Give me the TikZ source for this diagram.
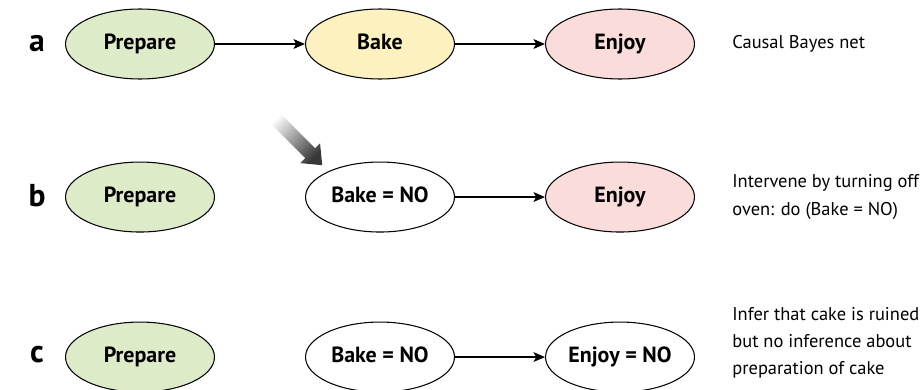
\documentclass[tikz,border=0pt]{standalone}
\usepackage{fontspec}
\setsansfont{PT Sans}
\usetikzlibrary{shapes.geometric,arrows.meta,positioning}

\definecolor{prepgreen}{RGB}{221,235,201}
\definecolor{bakeyellow}{RGB}{253,241,191}
\definecolor{enjoypink}{RGB}{250,220,218}

\begin{document}
\begin{tikzpicture}[x=0.02cm, y=0.02cm,
    font=\sffamily,
    >={Stealth[length=6.5pt, width=5.5pt, inset=1.5pt]},
    node distance=1.64cm and 1.8cm,
    base/.style={draw, ellipse, line width=0.6pt, minimum width=2.98cm, minimum height=1.4cm, inner sep=0pt, text height=0.68em, text depth=0.05em, font=\sffamily\bfseries\fontsize{12.5}{14}\selectfont},
    prep/.style={base, fill=prepgreen},
    bake/.style={base, fill=bakeyellow},
    enjoy/.style={base, fill=enjoypink},
    fixed/.style={base, fill=white},
    norm/.style={->, draw, black, line width=1.1pt},
    letter/.style={font=\sffamily\bfseries\fontsize{18}{20}\selectfont},
    note/.style={align=left, inner sep=0pt, font=\sffamily\fontsize{10.5}{15.5}\selectfont}]

\useasboundingbox (0,0) rectangle (920,-389);

% a: causal net
\node [prep] (prepA) at (140,-44) {Prepare};
\node [bake] (bakeA) [right=of prepA] {Bake};
\node [enjoy] (enjoyA) [right=of bakeA] {Enjoy};
\node [letter] (labA) at (37,-44) {a};
\node [note, right=0.74cm of enjoyA] (noteA) {Causal Bayes net};
\draw [norm] (prepA) -- (bakeA);
\draw [norm] (bakeA) -- (enjoyA);

% b: intervention
\node [prep] (prepB) [below=of prepA] {Prepare};
\node [fixed] (bakeB) [right=of prepB] {Bake = NO};
\node [enjoy] (enjoyB) [right=of bakeB] {Enjoy};
\node [letter] (labB) at (37,-196) {b};
\node [note, right=0.74cm of enjoyB] (noteB) {Intervene by turning off\\oven: do (Bake = NO)};
\draw [norm] (bakeB) -- (enjoyB);
\begin{scope}[shift={(272,-115)}, rotate=-45]
  \shade [top color=white, bottom color=black!78, shading angle=45]
    (0,7) -- (54,7) -- (54,14) -- (71,0) -- (54,-14) -- (54,-7) -- (0,-7) -- cycle;
\end{scope}

% c: inference
\node [prep] (prepC) [below=1.78cm of prepB] {Prepare};
\node [fixed] (bakeC) [right=of prepC] {Bake = NO};
\node [fixed] (enjoyC) [right=of bakeC] {Enjoy = NO};
\node [letter] (labC) at (37,-355) {c};
\node [note, right=0.74cm of enjoyC, yshift=0.28cm] (noteC) {Infer that cake is ruined\\but no inference about\\preparation of cake};
\draw [norm] (bakeC) -- (enjoyC);

\end{tikzpicture}
\end{document}
